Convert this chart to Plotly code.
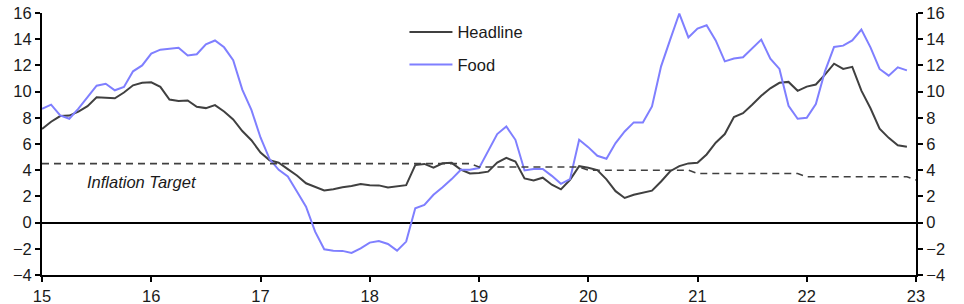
import plotly.graph_objects as go

# Monthly data, Jan 2015 .. Dec 2022 (% y/y)
start_year = 15
headline = [7.14, 7.70, 8.13, 8.17, 8.47, 8.89, 9.56, 9.53, 9.49, 9.93, 10.48, 10.67,
            10.71, 10.36, 9.39, 9.28, 9.32, 8.84, 8.74, 8.97, 8.48, 7.87, 6.99, 6.29,
            5.35, 4.76, 4.57, 4.08, 3.60, 3.00, 2.71, 2.46, 2.54, 2.70, 2.80, 2.95,
            2.86, 2.84, 2.68, 2.76, 2.86, 4.39, 4.48, 4.19, 4.53, 4.56, 4.05, 3.75,
            3.78, 3.89, 4.58, 4.94, 4.66, 3.37, 3.22, 3.43, 2.89, 2.54, 3.27, 4.31,
            4.19, 4.01, 3.30, 2.40, 1.88, 2.13, 2.31, 2.44, 3.14, 3.92, 4.31, 4.52,
            4.56, 5.20, 6.10, 6.76, 8.06, 8.35, 8.99, 9.68, 10.25, 10.67, 10.74, 10.06,
            10.38, 10.54, 11.30, 12.13, 11.73, 11.89, 10.07, 8.73, 7.17, 6.47, 5.90, 5.79]

food = [8.69, 9.0, 8.18, 7.93, 8.7, 9.6, 10.45, 10.6, 10.1, 10.35, 11.55, 12.0,
        12.9, 13.2, 13.28, 13.35, 12.75, 12.85, 13.6, 13.9, 13.38, 12.4, 10.15, 8.6,
        6.5, 4.85, 4.03, 3.52, 2.37, 1.22, -0.69, -2.04, -2.14, -2.16, -2.32, -1.96,
        -1.53, -1.4, -1.63, -2.14, -1.45, 1.1, 1.35, 2.12, 2.7, 3.32, 4.03, 4.03,
        4.16, 5.45, 6.76, 7.34, 6.32, 3.98, 4.1, 4.1, 3.57, 2.96, 3.32, 6.32,
        5.76, 5.1, 4.87, 6.07, 6.96, 7.65, 7.65, 8.87, 11.93, 13.97, 15.96, 14.14,
        14.81, 15.06, 13.91, 12.31, 12.52, 12.62, 13.28, 13.97, 12.52, 11.73, 8.92, 7.93,
        8.0, 9.05, 11.55, 13.41, 13.51, 13.91, 14.73, 13.38, 11.73, 11.22, 11.85, 11.62]

# Inflation target by calendar year
target_years = [15, 16, 17, 18, 19, 20, 21, 22, 23]
target_values = [4.5, 4.5, 4.5, 4.5, 4.25, 4.0, 3.75, 3.5, 3.25]

x_ticks = [15, 16, 17, 18, 19, 20, 21, 22, 23]
y_ticks = [-4, -2, 0, 2, 4, 6, 8, 10, 12, 14, 16]

x_months = [start_year + k / 12 for k in range(len(headline))]
target_x, target_y = [], []
for yr, val in zip(target_years, target_values):
    months = 12 if yr != target_years[-1] else 1
    for m in range(months):
        target_x.append(yr + m / 12)
        target_y.append(val)

FONT = "Liberation Sans, Arial, sans-serif"
FS = 16.5

fig = go.Figure()
fig.add_trace(go.Scatter(x=target_x, y=target_y, mode="lines", yaxis="y2",
                         line=dict(color="#404040", width=1.6, dash="7px,5px"),
                         showlegend=False, hoverinfo="skip"))
fig.add_trace(go.Scatter(x=x_months, y=headline, mode="lines", name="Headline",
                         legendgroup="a",
                         line=dict(color="#404040", width=2)))
fig.add_trace(go.Scatter(x=x_months, y=food, mode="lines", name="Food",
                         legendgroup="b",
                         line=dict(color="#7F7FFF", width=2)))

fig.add_annotation(x=15.39, y=3.1, xref="x", yref="y", text="<i>Inflation Target</i>",
                   showarrow=False, xanchor="left", yanchor="middle",
                   font=dict(family=FONT, size=FS, color="#1a1a1a"))

axis_common = dict(showgrid=False, showline=True, linecolor="black", linewidth=2,
                   ticks="outside", ticklen=5, tickwidth=2, tickcolor="black",
                   automargin=False,
                   tickfont=dict(family=FONT, size=FS, color="#1a1a1a"))

fig.update_layout(
    width=964, height=304,
    margin=dict(l=42, r=48, t=13, b=29),
    paper_bgcolor="white", plot_bgcolor="white",
    font=dict(family=FONT, size=FS, color="#1a1a1a"),
    xaxis=dict(range=[15, 23], tickvals=x_ticks, ticktext=[str(t) for t in x_ticks],
               zeroline=False, **axis_common),
    yaxis=dict(range=[-4, 16], tickvals=y_ticks, zeroline=True, zerolinecolor="black",
               zerolinewidth=2, **axis_common),
    yaxis2=dict(range=[-4, 16], tickvals=y_ticks, overlaying="y", side="right",
                matches="y", zeroline=False, **axis_common),
    legend=dict(x=0.4147, y=0.993, xanchor="left", yanchor="top",
                bgcolor="rgba(0,0,0,0)", font=dict(family=FONT, size=FS, color="#1a1a1a"),
                tracegroupgap=8, itemwidth=43),
    showlegend=True,
)

fig.write_html("out.html")
